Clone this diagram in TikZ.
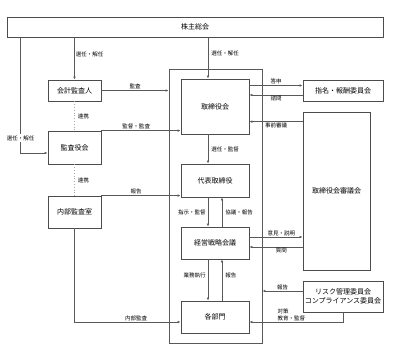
\documentclass[tikz,border=0pt]{standalone}
\usepackage{fontspec}
\setmainfont{Noto Sans CJK JP}
\usepackage{tikz}
\usetikzlibrary{positioning,arrows.meta}

\begin{document}
\begin{tikzpicture}[x=1pt, y=-1pt,
    font=\fontsize{7}{8.5}\selectfont,
    box/.style={draw=black!70, line width=0.8pt, fill=white, inner sep=1pt, align=center},
    lbl/.style={font=\fontsize{5.5}{6.5}\selectfont, inner sep=1pt},
    arr/.style={-{Latex[length=3pt,width=2.6pt]}, draw=black!65, line width=0.6pt},
    link/.style={draw=black!35, dotted, line width=0.8pt}]

  \useasboundingbox (0,0) rectangle (396,362);

  % ---- top: shareholders meeting ---------------------------------------
  \node[box, minimum width=376pt, minimum height=20pt] (soukai) at (195,27) {株主総会};

  % ---- middle frame: board and execution --------------------------------
  \node[draw=black!65, line width=0.8pt, minimum width=93pt, minimum height=274pt] (frame) at (215.5,206) {};
  \node[box, minimum width=68pt, minimum height=55pt] (board) at (215,106.5) {取締役会};
  \node[box, minimum width=68pt, minimum height=33pt] (ceo)   at (215,180.5) {代表取締役};
  \node[box, minimum width=68pt, minimum height=32pt] (strat) at (215,243)   {経営戦略会議};
  \node[box, minimum width=68pt, minimum height=32pt] (dept)  at (215,317)   {各部門};

  % ---- left column: audit bodies ----------------------------------------
  \node[box, minimum width=53pt, minimum height=21pt] (auditor) at (74.5,90.5) {会計監査人};
  \node[box, minimum width=53pt, minimum height=33pt] (kansa)   at (74.5,147.5) {監査役会};
  \node[box, minimum width=53pt, minimum height=32pt] (naibu)   at (74.5,212) {内部監査室};

  % ---- right column: committees -----------------------------------------
  \node[box, minimum width=80pt, minimum height=21pt]  (nomi)    at (343,90.5)  {指名・報酬委員会};
  \node[box, minimum width=67pt, minimum height=158pt] (council) at (336.5,191) {取締役会審議会};
  \node[box, minimum width=80pt, minimum height=31pt]  (risk)    at (343,296.5) {リスク管理委員会\\コンプライアンス委員会};

  % ---- appointment lines ------------------------------------------------
  \coordinate (bt) at ([xshift=-7pt]board.north);
  \draw[arr] (soukai.south -| auditor.north) -- (auditor.north)
      node[lbl, right, pos=0.4] {選任・解任};
  \draw[arr] (soukai.south -| bt) -- (bt)
      node[lbl, right=2pt, pos=0.4] {選任・解任};
  \draw[arr] ([xshift=14pt]soukai.south west) |- ([yshift=-5.5pt]kansa.west)
      node[lbl, fill=white, pos=0.435] {選任・解任};

  % ---- audit side -------------------------------------------------------
  \draw[link] (auditor.south) -- (kansa.north) node[lbl, right=2pt, midway] {連携};
  \draw[link] (kansa.south) -- (naibu.north) node[lbl, right=2pt, midway] {連携};
  \draw[arr] (auditor.east) -- (auditor.east -| frame.west)
      node[lbl, above, midway] {監査};
  \draw[arr] (kansa.north east) -- (kansa.north east -| board.west)
      node[lbl, above, pos=0.44] {監督・監査};
  \draw[arr] (naibu.north east) -- (naibu.north east -| ceo.west)
      node[lbl, above, pos=0.44] {報告};
  \draw[arr] (naibu.south) |- ([yshift=-5pt]dept.west)
      node[lbl, above, pos=0.79] {内部監査};

  % ---- inside the frame -------------------------------------------------
  \draw[arr] ([xshift=-7pt]board.south) -- ([xshift=-7pt]ceo.north)
      node[lbl, right=2pt, midway] {選任・監督};
  \draw[arr] ([xshift=-7pt]ceo.south) -- ([xshift=-7pt]strat.north)
      node[lbl, left=1pt, midway] {指示・監督};
  \draw[arr] ([xshift=7pt]strat.north) -- ([xshift=7pt]ceo.south)
      node[lbl, right=2pt, midway] {協議・報告};
  \draw[arr] ([xshift=-7pt]strat.south) -- ([xshift=-7pt]dept.north)
      node[lbl, left=1pt, pos=0.4] {業務執行};
  \draw[arr] ([xshift=7pt]dept.north) -- ([xshift=7pt]strat.south)
      node[lbl, right=2pt, pos=0.6] {報告};

  % ---- committees -------------------------------------------------------
  \coordinate (tou) at ([yshift=5pt]nomi.west);
  \coordinate (shi) at ([yshift=-4.5pt]nomi.west);
  \coordinate (jizen) at ([yshift=-10pt]council.north west);
  \coordinate (iken) at ([yshift=6pt]strat.east -| council.west);
  \coordinate (shitsu) at ([yshift=-4pt]strat.east -| council.west);
  \coordinate (rep) at ([yshift=5.5pt]risk.west);
  \draw[arr] (tou -| board.east) -- (tou) node[lbl, above, midway] {答申};
  \draw[arr] (shi) -- (shi -| board.east) node[lbl, below, midway] {諮問};
  \draw[arr] (jizen) -- (jizen -| board.east) node[lbl, below, midway] {事前審議};
  \draw[arr] (iken -| strat.east) -- (iken) node[lbl, above, pos=0.6] {意見・説明};
  \draw[arr] (shitsu) -- (shitsu -| strat.east) node[lbl, below, pos=0.4] {質問};
  \draw[arr] (rep) -- (rep -| frame.east) node[lbl, above, midway] {報告};
  \draw[arr] (risk.south) |- ([yshift=-5pt]dept.east)
      node[lbl, above, align=left, anchor=south west, pos=0.856] {対策\\教育・監督};
\end{tikzpicture}
\end{document}
